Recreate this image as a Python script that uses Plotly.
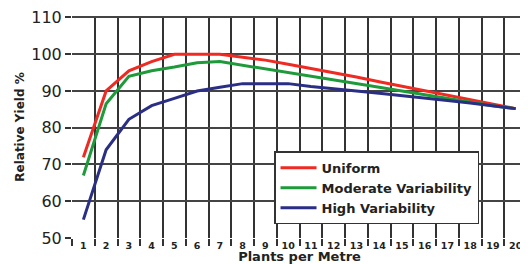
import plotly.graph_objects as go

plants = [str(i) for i in range(1, 21)]
uniform = [72, 90, 95.5, 98, 100, 100, 100, 99.2, 98.4, 97.3, 96.2, 95, 93.8, 92.5, 91.3, 90, 88.8, 87.5, 86.3, 85.2]
moderate = [67, 86.5, 94, 95.5, 96.5, 97.7, 98, 97, 96, 95.2, 94, 93, 92, 91, 90, 89, 88, 87, 86, 85.2]
high = [55, 74, 82.3, 86, 88, 90, 91, 92, 92, 92, 91.2, 90.7, 90, 89.4, 88.8, 88.1, 87.4, 86.7, 86, 85.2]
yticks = [50, 60, 70, 80, 90, 100, 110]

fig = go.Figure()
series = [("Uniform", uniform, "#ee2a22"), ("Moderate Variability", moderate, "#1f9a3a"),
          ("High Variability", high, "#2a2f85")]
for name, vals, col in series:
    fig.add_trace(go.Scatter(x=plants, y=vals, name=name, mode="lines",
                             line=dict(color=col, width=3)))

# the page body adds an 8px offset, so the figure is sized/margined to compensate
fig.update_layout(
    width=520, height=256,
    margin=dict(l=64, r=1, t=8, b=26),
    paper_bgcolor="white", plot_bgcolor="white",
    font=dict(family="DejaVu Sans", color="#222"),
    legend=dict(x=0.444, y=0.39, xanchor="left", yanchor="top",
                bgcolor="white", bordercolor="#333", borderwidth=1.5,
                font=dict(size=13, color="#222", family="DejaVu Sans", weight="bold"),
                tracegroupgap=0, itemwidth=36),
    xaxis=dict(type="category", tickson="boundaries", showgrid=True, gridcolor="#333",
               gridwidth=2, ticks="outside", ticklen=7, tickwidth=2, tickcolor="#333",
               tickangle=0,
               tickfont=dict(size=9.5, color="#222", family="DejaVu Sans", weight="bold"),
               showline=False, range=[-0.5, 19.5], automargin=False,
               title=dict(text="<b>Plants per Metre</b>", font=dict(size=13), standoff=0)),
    yaxis=dict(range=[50, 110.4], tickvals=yticks, showgrid=True, gridcolor="#444", gridwidth=2,
               ticks="outside", ticklen=6, tickwidth=2, tickcolor="#333",
               tickfont=dict(size=16, color="#222"), zeroline=False, showline=False,
               automargin=False, ticklabeloverflow="allow",
               title=dict(text="<b>Relative Yield %</b>", font=dict(size=12), standoff=4)),
)
fig.write_html("out.html")
